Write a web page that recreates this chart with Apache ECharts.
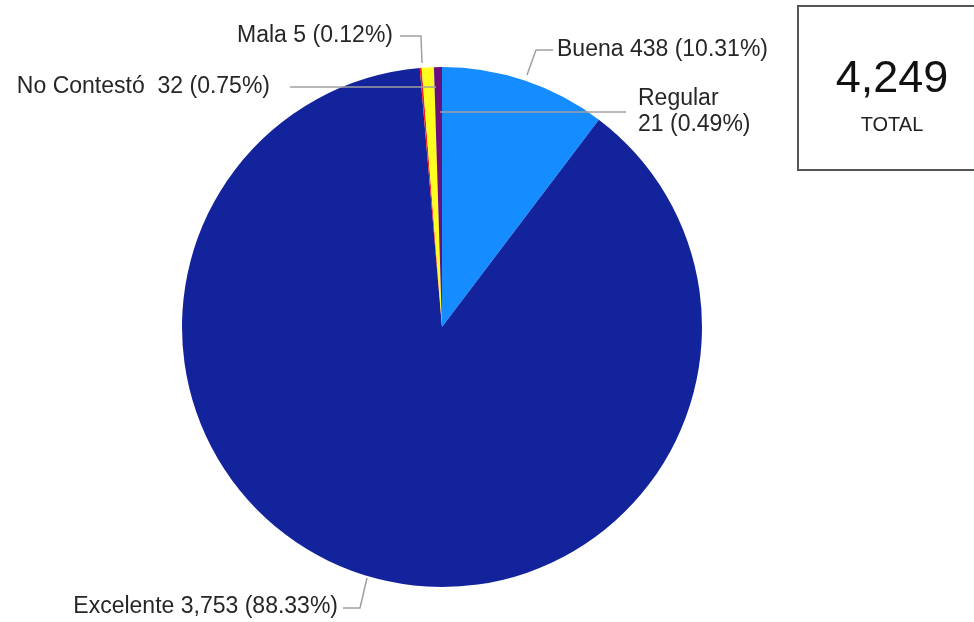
<!DOCTYPE html>
<html>
<head>
<meta charset="utf-8">
<script src="https://cdn.jsdelivr.net/npm/echarts@6/dist/echarts.min.js"></script>
<style>
html,body{margin:0;padding:0;background:#fff;}
#c{width:974px;height:622px;}
</style>
</head>
<body>
<div id="c"></div>
<script>
const categories = ['Buena', 'Excelente', 'Mala', 'No Contestó ', 'Regular'];
const values = [438, 3753, 5, 32, 21];
const totalLabel = 'TOTAL';

const colors = ['#158cff', '#13239b', '#ff1a1a', '#ffff1f', '#6a0f7e'];
const labelPos = [
  {x: 557, y: 50, align: 'left', line: [[527, 75], [536, 50], [553, 50]]},
  {x: 338, y: 607, align: 'right', line: [[367, 578], [360, 608], [343, 608]]},
  {x: 393, y: 36, align: 'right', line: [[422, 63], [421, 36], [400, 36]]},
  {x: 270, y: 87, align: 'right', line: [[436, 87], [290, 87]]},
  {x: 638, y: 112, align: 'left', line: [[440, 112], [626, 112]]}
];

const total = values.reduce((a, b) => a + b, 0);
const fmt = n => n.toLocaleString('en-US');

const lines = labelPos.map(lp => ({
  type: 'polyline', z: 100, silent: true,
  shape: {points: lp.line},
  style: {stroke: '#a0a0a0', lineWidth: 1.5, fill: null}
}));

const chart = echarts.init(document.getElementById('c'));
chart.setOption({
  animation: false,
  color: colors,
  graphic: [
    {type: 'rect', shape: {x: 798, y: 6, width: 200, height: 164},
     style: {fill: '#fff', stroke: '#555', lineWidth: 2}},
    {type: 'text', x: 892, y: 80, style: {text: fmt(total), font: '45px "Liberation Sans", Arial, sans-serif', fill: '#111', align: 'center', verticalAlign: 'middle'}},
    {type: 'text', x: 892, y: 125, style: {text: totalLabel, font: '20px "Liberation Sans", Arial, sans-serif', fill: '#222', align: 'center', verticalAlign: 'middle'}}
  ].concat(lines),
  series: [{
    type: 'pie',
    center: [442, 327],
    radius: 260,
    startAngle: 90,
    clockwise: true,
    avoidLabelOverlap: false,
    itemStyle: {borderWidth: 0},
    data: categories.map((c, i) => ({name: c, value: values[i]})),
    label: {
      show: true,
      fontFamily: '"Liberation Sans", Arial, sans-serif',
      fontSize: 23,
      color: '#262626',
      lineHeight: 26,
      formatter: p => {
        const pct = (p.value / total * 100).toFixed(2);
        if (p.dataIndex === 4) return p.name + '\n' + fmt(p.value) + ' (' + pct + '%)';
        return p.name + ' ' + fmt(p.value) + ' (' + pct + '%)';
      }
    },
    labelLine: {show: false},
    labelLayout: p => {
      const lp = labelPos[p.dataIndex];
      return {x: lp.x, y: lp.y, align: lp.align, verticalAlign: 'middle'};
    }
  }]
});
</script>
</body>
</html>
